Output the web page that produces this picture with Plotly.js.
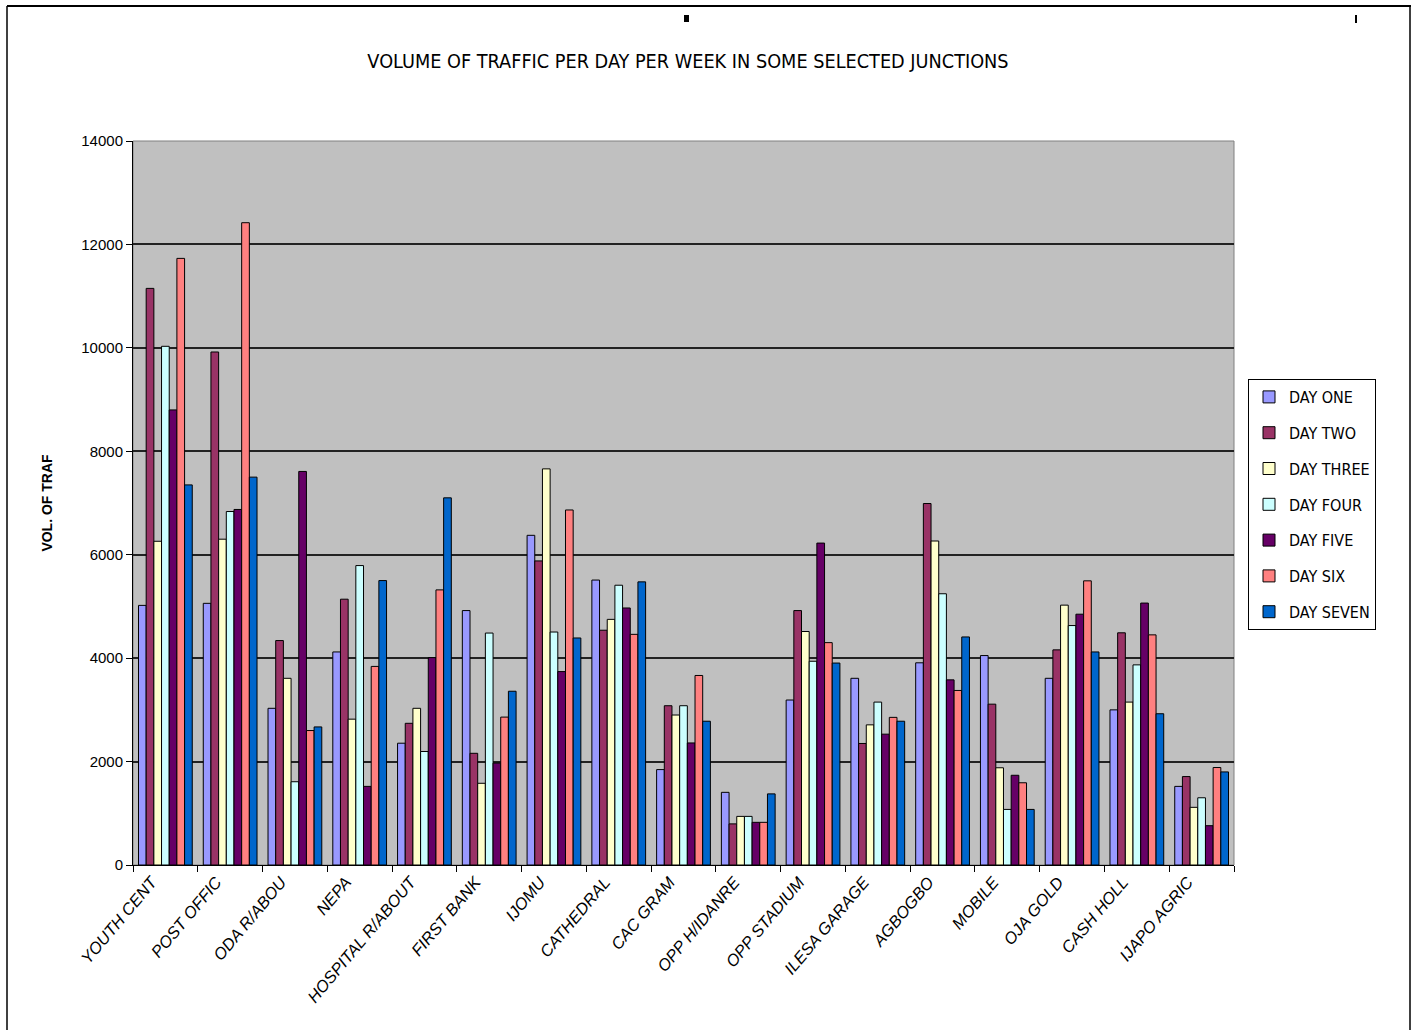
<!DOCTYPE html>
<html>
<head>
<meta charset="utf-8">
<script src="https://cdn.plot.ly/plotly-3.0.1.min.js"></script>
<style>html,body{margin:0;padding:0;background:#fff;}#chart{width:1414px;height:1030px;}</style>
</head>
<body>
<div id="chart"></div>
<script>
const junctions = ["YOUTH CENT", "POST OFFIC", "ODA R/ABOU", "NEPA", "HOSPITAL R/ABOUT", "FIRST BANK", "IJOMU", "CATHEDRAL", "CAC GRAM", "OPP H/IDANRE", "OPP STADIUM", "ILESA GARAGE", "AGBOGBO", "MOBILE", "OJA GOLD", "CASH HOLL", "IJAPO AGRIC"];
const seriesNames = ["DAY ONE", "DAY TWO", "DAY THREE", "DAY FOUR", "DAY FIVE", "DAY SIX", "DAY SEVEN"];
const dayOne   = [5020, 5060, 3030, 4120, 2355, 4920, 6375, 5510, 1845, 1405, 3190, 3610, 3910, 4050, 3610, 3000, 1520];
const dayTwo   = [11150, 9920, 4340, 5140, 2740, 2160, 5880, 4540, 3080, 795, 4920, 2350, 6990, 3110, 4160, 4490, 1710];
const dayThree = [6260, 6300, 3610, 2820, 3030, 1580, 7660, 4750, 2900, 940, 4515, 2710, 6265, 1880, 5025, 3150, 1115];
const dayFour  = [10030, 6835, 1610, 5790, 2195, 4485, 4505, 5410, 3080, 940, 3940, 3150, 5245, 1075, 4630, 3870, 1300];
const dayFive  = [8800, 6875, 7610, 1520, 4010, 1970, 3740, 4970, 2360, 825, 6225, 2530, 3580, 1735, 4850, 5065, 760];
const daySix   = [11730, 12420, 2600, 3840, 5320, 2860, 6865, 4460, 3665, 825, 4300, 2855, 3375, 1590, 5495, 4450, 1885];
const daySeven = [7350, 7500, 2670, 5500, 7100, 3360, 4390, 5475, 2780, 1375, 3905, 2780, 4410, 1075, 4120, 2925, 1800];
const colors = ["#9999FF", "#993366", "#FFFFCC", "#CCFFFF", "#660066", "#FF8080", "#0066CC"];
const allSeries = [dayOne, dayTwo, dayThree, dayFour, dayFive, daySix, daySeven];

const traces = allSeries.map((vals, i) => ({
  type: 'bar',
  name: seriesNames[i],
  x: junctions,
  y: vals,
  legendgroup: 'g' + i,
  marker: {color: colors[i], line: {color: '#000000', width: 1}},
  hoverinfo: 'x+y+name'
}));

// paper coordinate helpers (plot area 133..1234 x, 141..865 y)
const px = v => (v - 133) / 1101;
const py = v => (865 - v) / 724;

const layout = {
  width: 1414, height: 1030,
  margin: {l: 133, r: 180, t: 141, b: 165, pad: 0},
  paper_bgcolor: '#FFFFFF',
  plot_bgcolor: '#C0C0C0',
  barmode: 'group',
  bargap: 0.17,
  bargroupgap: 0,
  font: {family: 'Liberation Sans, Arial, sans-serif', color: '#000'},
  title: {
    text: 'VOLUME OF TRAFFIC PER DAY PER WEEK IN SOME SELECTED JUNCTIONS',
    font: {family: 'Liberation Sans Narrow, DejaVu Sans Condensed, sans-serif', size: 19.7, color: '#000'},
    x: px(688), xref: 'paper', xanchor: 'center',
    y: 1 - 61 / 1030, yref: 'container', yanchor: 'middle'
  },
  xaxis: {
    type: 'category',
    showgrid: false,
    showline: true, linecolor: '#000', linewidth: 1,
    ticks: 'outside', ticklen: 6, tickcolor: '#000', tickwidth: 1,
    tickson: 'boundaries',
    tickangle: -50,
    ticklabelshift: -14,
    tickfont: {family: 'Liberation Sans, Arial, sans-serif', size: 16.5, style: 'italic', color: '#000'},
    range: [-0.5, 16.5],
    zeroline: false
  },
  yaxis: {
    range: [0, 14000],
    dtick: 2000,
    tickformat: 'd',
    showgrid: true, gridcolor: '#222222', gridwidth: 2,
    showline: true, linecolor: '#000', linewidth: 1,
    ticks: 'outside', ticklen: 6, tickcolor: '#000',
    tickfont: {family: 'Liberation Sans, Arial, sans-serif', size: 15, color: '#000'},
    zeroline: false,
    title: {text: 'VOL. OF TRAF', font: {family: 'Liberation Sans, Arial, sans-serif', size: 14, weight: 'bold', color: '#000'}, standoff: 25}
  },
  legend: {
    x: px(1248), y: py(379), xanchor: 'left', yanchor: 'top',
    bgcolor: '#FFFFFF', bordercolor: '#000', borderwidth: 1,
    font: {family: 'Liberation Sans Narrow, DejaVu Sans Condensed, sans-serif', size: 16, color: '#000'},
    traceorder: 'grouped', tracegroupgap: 12,
    itemwidth: 30
  },
  shapes: [
    {type: 'rect', xref: 'paper', yref: 'paper', x0: 0, x1: 1, y0: 0, y1: 1, line: {color: '#808080', width: 1}, layer: 'below'},
    {type: 'line', xref: 'paper', yref: 'paper', x0: px(7), x1: px(1411), y0: py(6), y1: py(6), line: {color: '#000', width: 2}},
    {type: 'line', xref: 'paper', yref: 'paper', x0: px(7), x1: px(7), y0: py(6), y1: py(1034), line: {color: '#000', width: 1.5}},
    {type: 'line', xref: 'paper', yref: 'paper', x0: px(1410), x1: px(1410), y0: py(6), y1: py(1034), line: {color: '#000', width: 1.5}},
    {type: 'rect', xref: 'paper', yref: 'paper', x0: px(684), x1: px(689), y0: py(15), y1: py(22), fillcolor: '#000', line: {width: 0}},
    {type: 'rect', xref: 'paper', yref: 'paper', x0: px(1355), x1: px(1357), y0: py(15), y1: py(23), fillcolor: '#000', line: {width: 0}},
    {type: 'rect', xref: 'paper', yref: 'paper', x0: px(1354), x1: px(1358), y0: py(528), y1: py(537), fillcolor: '#000', line: {width: 0}}
  ]
};

Plotly.newPlot('chart', traces, layout, {displayModeBar: false, staticPlot: true});
</script>
</body>
</html>
